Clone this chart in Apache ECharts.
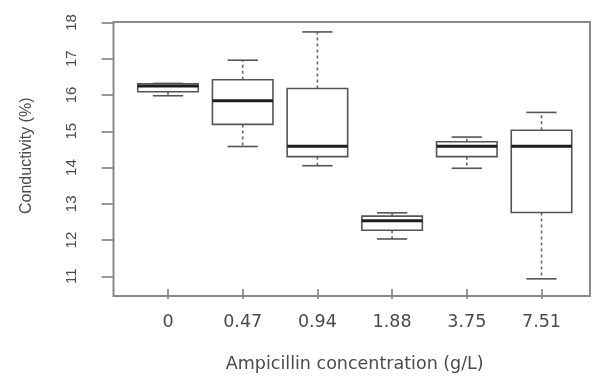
<!DOCTYPE html>
<html>
<head>
<meta charset="utf-8">
<script src="https://cdn.jsdelivr.net/npm/echarts@6/dist/echarts.min.js"></script>
<style>html,body{margin:0;padding:0;background:#fff}#c{width:595px;height:378px}</style>
</head>
<body>
<div id="c"></div>
<script>
const categories = ['0', '0.47', '0.94', '1.88', '3.75', '7.51'];
const mins    = [15.98, 14.58, 14.05, 12.03, 13.98, 10.93];
const q1s     = [16.09, 15.19, 14.30, 12.27, 14.30, 12.76];
const medians = [16.25, 15.84, 14.59, 12.53, 14.59, 14.59];
const q3s     = [16.31, 16.42, 16.18, 12.66, 14.71, 15.03];
const maxs    = [16.32, 16.96, 17.74, 12.75, 14.84, 15.52];
const yTicks  = [11, 12, 13, 14, 15, 16, 17, 18];

const boxData = categories.map((c, i) => [i, mins[i], q1s[i], medians[i], q3s[i], maxs[i]]);

const chart = echarts.init(document.getElementById('c'), null, {renderer: 'canvas'});

function renderBox(params, api) {
  const idx = api.value(0);
  const pMin = api.coord([idx, api.value(1)]);
  const pQ1 = api.coord([idx, api.value(2)]);
  const pMed = api.coord([idx, api.value(3)]);
  const pQ3 = api.coord([idx, api.value(4)]);
  const pMax = api.coord([idx, api.value(5)]);
  const band = api.size([1, 0])[0];
  const bw = band * 0.81;
  const cw = bw * 0.5;
  const cx = pMed[0];
  const boxStroke = '#555';
  const dashStyle = {stroke: '#666', lineWidth: 1.6, lineDash: [3, 3], fill: null};
  const capStyle = {stroke: '#555', lineWidth: 1.6, fill: null};
  return {
    type: 'group',
    children: [
      {type: 'line', shape: {x1: cx, y1: pQ3[1], x2: cx, y2: pMax[1]}, style: dashStyle},
      {type: 'line', shape: {x1: cx, y1: pQ1[1], x2: cx, y2: pMin[1]}, style: dashStyle},
      {type: 'line', shape: {x1: cx - cw / 2, y1: pMax[1], x2: cx + cw / 2, y2: pMax[1]}, style: capStyle},
      {type: 'line', shape: {x1: cx - cw / 2, y1: pMin[1], x2: cx + cw / 2, y2: pMin[1]}, style: capStyle},
      {type: 'rect', shape: {x: cx - bw / 2, y: pQ3[1], width: bw, height: pQ1[1] - pQ3[1]},
        style: {fill: '#fff', stroke: boxStroke, lineWidth: 1.6}},
      {type: 'line', shape: {x1: cx - bw / 2, y1: pMed[1], x2: cx + bw / 2, y2: pMed[1]},
        style: {stroke: '#1e1e1e', lineWidth: 3}}
    ]
  };
}

chart.setOption({
  animation: false,
  backgroundColor: '#fff',
  grid: [
    {left: 130.65, right: 16.15, top: 22.5, bottom: 82, show: false},
    {left: 113.5, right: 5, top: 22, bottom: 82, show: true, borderColor: '#8a8a8a', borderWidth: 2, backgroundColor: 'transparent', z: 1}
  ],
  xAxis: [
    {
      type: 'category', gridIndex: 0, data: categories, boundaryGap: true,
      axisLine: {show: false},
      axisTick: {show: true, alignWithLabel: true, length: 10, lineStyle: {color: '#777', width: 1.5}},
      axisLabel: {margin: 24, color: '#4a4a4a', fontFamily: 'DejaVu Sans', fontSize: 17.5},
      splitLine: {show: false},
      name: 'Ampicillin concentration (g/L)', nameLocation: 'middle', nameGap: 66,
      nameTextStyle: {color: '#4a4a4a', fontFamily: 'DejaVu Sans', fontSize: 17.5}
    },
    {type: 'value', gridIndex: 1, show: false, min: 0, max: 1}
  ],
  yAxis: [
    {
      type: 'value', gridIndex: 0, min: 10.65, max: 18.0, offset: 17,
      axisLine: {show: false},
      axisTick: {show: true, length: 12, customValues: yTicks, lineStyle: {color: '#777', width: 1.5}},
      axisLabel: {customValues: yTicks, rotate: 90, margin: 34, color: '#4a4a4a', fontFamily: 'Liberation Sans', fontSize: 15},
      splitLine: {show: false},
      name: 'Conductivity (%)', nameLocation: 'middle', nameGap: 79,
      nameTextStyle: {color: '#4a4a4a', fontFamily: 'Liberation Sans', fontSize: 16}
    },
    {type: 'value', gridIndex: 1, show: false, min: 0, max: 1}
  ],
  series: [{
    type: 'custom',
    xAxisIndex: 0, yAxisIndex: 0,
    renderItem: renderBox,
    data: boxData,
    z: 5
  }]
});
</script>
</body>
</html>
